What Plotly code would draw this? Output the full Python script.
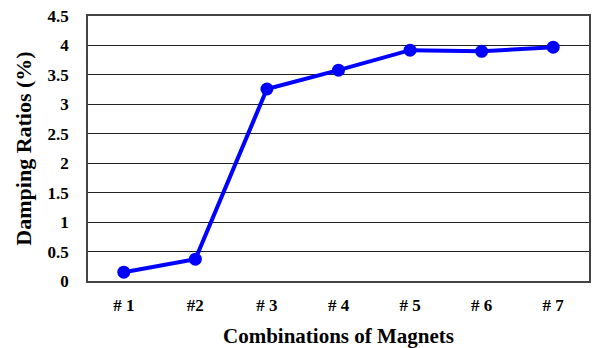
import plotly.graph_objects as go

categories = ["# 1", "#2", "# 3", "# 4", "# 5", "# 6", "# 7"]
damping = [0.15, 0.37, 3.26, 3.58, 3.92, 3.90, 3.97]
y_ticks = [0, 0.5, 1, 1.5, 2, 2.5, 3, 3.5, 4, 4.5]
y_labels = ["0", "0.5", "1", "1.5", "2", "2.5", "3", "3.5", "4", "4.5"]

fig = go.Figure()
fig.add_trace(go.Scatter(
    x=categories, y=damping, mode="lines+markers",
    line=dict(color="#0000ff", width=4),
    marker=dict(color="#0000ff", size=13),
    showlegend=False,
))

font_family = "Liberation Serif, Times New Roman, serif"
fig.update_layout(
    width=592, height=348,
    margin=dict(l=88, r=1, t=16, b=67),
    paper_bgcolor="white", plot_bgcolor="white",
    font=dict(family=font_family, color="black"),
    xaxis=dict(
        type="category", range=[-0.5, 6.5],
        showgrid=False, showline=True, linecolor="#444", linewidth=1.5, mirror=True,
        ticks="", tickfont=dict(size=17, family=font_family, weight="bold"),
        ticklabelstandoff=8,
        title=dict(text="<b>Combinations of Magnets</b>", font=dict(size=21), standoff=14),
    ),
    yaxis=dict(
        range=[0, 4.5], tickvals=y_ticks, ticktext=y_labels,
        showgrid=True, gridcolor="#222", gridwidth=1,
        showline=True, linecolor="#444", linewidth=1.5, mirror=True,
        ticks="", tickfont=dict(size=17, family=font_family, weight="bold"),
        ticklabelstandoff=14, zeroline=False,
        title=dict(text="<b>Damping Ratios (%)</b>", font=dict(size=22), standoff=10),
    ),
)

fig.write_html("out.html", config={"displayModeBar": False},
               post_script="document.body.style.margin='0';")
